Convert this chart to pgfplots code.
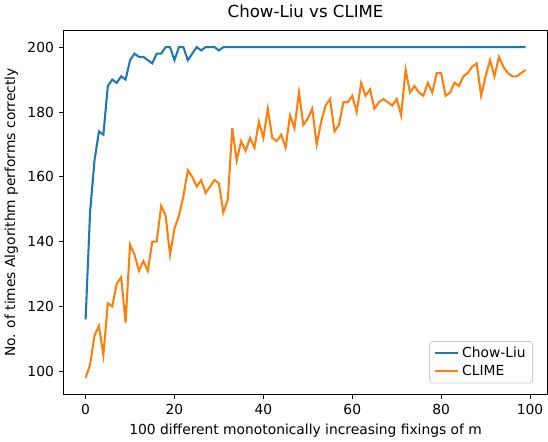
\documentclass[border=0pt]{standalone}
\usepackage{pgfplots}
\pgfplotsset{compat=1.18}
\usepackage{fontspec}
\setmainfont{DejaVu Sans}
\definecolor{mplblue}{HTML}{1F77B4}
\definecolor{mplorange}{HTML}{FF7F0E}
\begin{document}
\begin{tikzpicture}
\begin{axis}[
    scale only axis,
    width=350pt, height=263pt,
    xmin=-4.95, xmax=103.95,
    ymin=92.9, ymax=205.1,
    xtick={0,20,40,60,80,100},
    ytick={100,120,140,160,180,200},
    tick align=outside,
    major tick length=3.5pt,
    xtick pos=bottom, ytick pos=left,
    tick style={black, line width=0.6pt},
    axis line style={line width=0.6pt},
    /pgf/number format/assume math mode=true,
    ticklabel style={font=\fontsize{10}{12}\selectfont},
    label style={font=\fontsize{10}{12}\selectfont},
    title style={font=\fontsize{12}{14}\selectfont},
    title={Chow-Liu vs CLIME},
    xlabel={100 different monotonically increasing fixings of m},
    ylabel={No. of times Algorithm performs correctly},
    legend pos=south east,
    legend cell align=left,
    legend style={font=\fontsize{10}{12}\selectfont, draw=black!20, rounded corners=2pt, line width=0.6pt},
  ]
\addplot[mplblue, line width=1.5pt] coordinates {
(0,116)(1,149)(2,165)(3,174)(4,173)(5,188)(6,190)(7,189)(8,191)(9,190)
(10,196)(11,198)(12,197)(13,197)(14,196)(15,195)(16,198)(17,198)(18,200)(19,200)
(20,196)(21,200)(22,200)(23,196)(24,198)(25,200)(26,199)(27,200)(28,200)(29,200)
(30,199)(31,200)(32,200)(33,200)(34,200)(35,200)(36,200)(37,200)(38,200)(39,200)
(40,200)(41,200)(42,200)(43,200)(44,200)(45,200)(46,200)(47,200)(48,200)(49,200)
(50,200)(51,200)(52,200)(53,200)(54,200)(55,200)(56,200)(57,200)(58,200)(59,200)
(60,200)(61,200)(62,200)(63,200)(64,200)(65,200)(66,200)(67,200)(68,200)(69,200)
(70,200)(71,200)(72,200)(73,200)(74,200)(75,200)(76,200)(77,200)(78,200)(79,200)
(80,200)(81,200)(82,200)(83,200)(84,200)(85,200)(86,200)(87,200)(88,200)(89,200)
(90,200)(91,200)(92,200)(93,200)(94,200)(95,200)(96,200)(97,200)(98,200)(99,200)
};
\addlegendentry{Chow-Liu}
\addplot[mplorange, line width=1.5pt] coordinates {
(0,98)(1,102)(2,111)(3,114)(4,105)(5,121)(6,120)(7,127)(8,129)(9,115)
(10,139)(11,136)(12,131)(13,134)(14,131)(15,140)(16,140)(17,151)(18,148)(19,136)
(20,144)(21,148)(22,154)(23,162)(24,160)(25,157)(26,159)(27,155)(28,157)(29,159)
(30,158)(31,149)(32,153)(33,175)(34,165)(35,171)(36,168)(37,172)(38,169)(39,177)
(40,172)(41,181)(42,172)(43,171)(44,173)(45,169)(46,179)(47,175)(48,186)(49,176)
(50,178)(51,181)(52,170)(53,177)(54,182)(55,184)(56,174)(57,176)(58,183)(59,183)
(60,185)(61,180)(62,189)(63,185)(64,187)(65,181)(66,183)(67,184)(68,183)(69,182)
(70,184)(71,179)(72,193)(73,186)(74,188)(75,186)(76,185)(77,189)(78,186)(79,192)
(80,192)(81,185)(82,186)(83,189)(84,188)(85,191)(86,192)(87,194)(88,195)(89,185)
(90,191)(91,196)(92,191)(93,197)(94,194)(95,192)(96,191)(97,191)(98,192)(99,193)
};
\addlegendentry{CLIME}
\end{axis}
\end{tikzpicture}
\end{document}
